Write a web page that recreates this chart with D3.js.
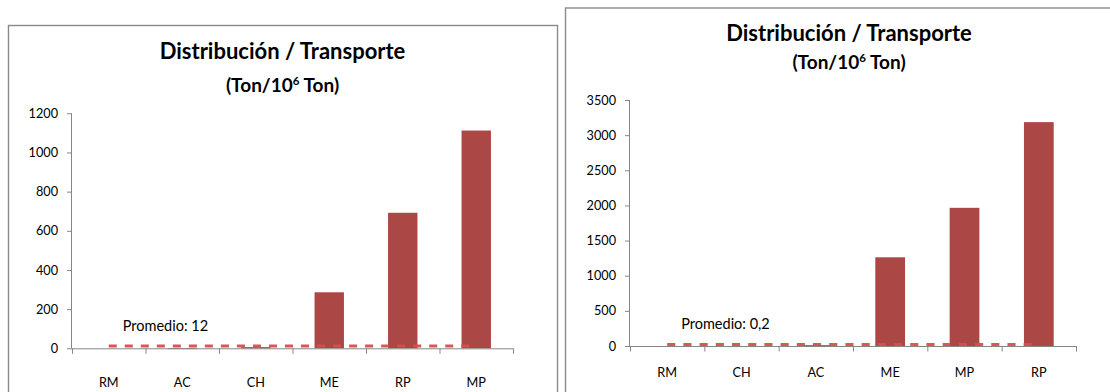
<!DOCTYPE html>
<html>
<head>
<meta charset="utf-8">
<script src="https://cdn.jsdelivr.net/npm/d3@7"></script>
<style>
  html, body { margin: 0; padding: 0; background: #ffffff; }
  svg { display: block; }
  text { font-family: Lato, "Open Sans", sans-serif; fill: #000; }
</style>
</head>
<body>
<svg id="chart" width="1110" height="392"></svg>
<script>
// ---- data ----
const leftCategories = ["RM", "AC", "CH", "ME", "RP", "MP"];
const leftValues = [0, -4, 6, 286, 692, 1112];
const leftTicks = [0, 200, 400, 600, 800, 1000, 1200];
const leftPromedio = 12;
const leftPromedioLabel = "Promedio: 12";

const rightCategories = ["RM", "CH", "AC", "ME", "MP", "RP"];
const rightValues = [0, -15, 12, 1262, 1966, 3185];
const rightTicks = [0, 500, 1000, 1500, 2000, 2500, 3000, 3500];
const rightPromedio = 22;
const rightPromedioLabel = "Promedio: 0,2";

const titleText = "Distribución / Transporte";
const subtitlePre = "(Ton/10";
const subtitleSup = "6";
const subtitlePost = " Ton)";

// ---- style ----
const barColor = "#AB4744";
const lineColor = "#D4514E";
const axisColor = "#868686";
const borderColor = "#8a8a8a";

const svg = d3.select("#chart");
svg.append("rect").attr("width", 1110).attr("height", 392).attr("fill", "#fff");

function drawChart(cfg) {
  const g = svg.append("g");
  // frame
  g.append("rect")
    .attr("x", cfg.box.x + 0.5).attr("y", cfg.box.y + 0.5)
    .attr("width", cfg.box.w).attr("height", cfg.box.h)
    .attr("fill", "#fff").attr("stroke", borderColor).attr("stroke-width", 1.4);

  // title
  g.append("text")
    .attr("x", cfg.titleX).attr("y", cfg.titleY)
    .attr("text-anchor", "middle")
    .style("font-weight", "bold").style("font-size", "22px")
    .text(titleText);
  const st = g.append("text")
    .attr("x", cfg.titleX).attr("y", cfg.subY)
    .attr("text-anchor", "middle")
    .style("font-weight", "bold").style("font-size", "19px");
  st.append("tspan").text(subtitlePre);
  st.append("tspan").attr("dy", -7).style("font-size", "11.5px").text(subtitleSup);
  st.append("tspan").attr("dy", 7).text(subtitlePost);

  const x = d3.scaleBand().domain(cfg.categories).range([cfg.x0, cfg.x1]).paddingInner(0.6).paddingOuter(0.3);
  const xb = d3.scaleBand().domain(cfg.categories).range([cfg.x0, cfg.x1]);
  const y = d3.scaleLinear().domain([0, cfg.ticks[cfg.ticks.length - 1]]).range([cfg.y0, cfg.y1]);

  // y axis
  const yAxis = g.append("g").attr("transform", `translate(${cfg.x0},0)`)
    .call(d3.axisLeft(y).tickValues(cfg.ticks).tickSize(5).tickPadding(9).tickFormat(d3.format("d")));
  yAxis.select(".domain").attr("stroke", axisColor).attr("d", `M-0.5,${cfg.y0}V${cfg.y1}`);
  yAxis.selectAll(".tick line").attr("stroke", axisColor);
  yAxis.selectAll(".tick text").style("font-size", "12.7px").style("font-family", "Lato, sans-serif").attr("fill", "#000");

  // bars
  g.append("g").selectAll("rect").data(cfg.values).join("rect")
    .attr("x", (d, i) => x(cfg.categories[i]))
    .attr("width", x.bandwidth())
    .attr("y", d => Math.min(y(d), y(0)))
    .attr("height", d => Math.abs(y(d) - y(0)))
    .attr("fill", barColor);

  // x axis (ticks at band boundaries)
  const xg = g.append("g");
  xg.append("line").attr("x1", cfg.x0).attr("x2", cfg.x1)
    .attr("y1", y(0) + 0.5).attr("y2", y(0) + 0.5).attr("stroke", axisColor);
  const bounds = cfg.categories.map(c => xb(c)).concat([cfg.x1]);
  xg.selectAll("line.t").data(bounds).join("line").attr("class", "t")
    .attr("x1", d => d + 0.5).attr("x2", d => d + 0.5)
    .attr("y1", y(0)).attr("y2", y(0) + 5.5).attr("stroke", axisColor);
  xg.selectAll("text").data(cfg.categories).join("text")
    .attr("x", d => xb(d) + xb.bandwidth() / 2)
    .attr("y", y(0) + cfg.catDy)
    .attr("text-anchor", "middle")
    .style("font-size", "12.7px")
    .text(d => d);

  // promedio dashed line
  const c0 = xb(cfg.categories[0]) + xb.bandwidth() / 2;
  const c1 = xb(cfg.categories[cfg.categories.length - 1]) + xb.bandwidth() / 2;
  const dash = xb.bandwidth() * 0.109;
  g.append("line")
    .attr("x1", c0).attr("x2", c1)
    .attr("y1", y(cfg.promedio)).attr("y2", y(cfg.promedio))
    .attr("stroke", lineColor).attr("stroke-width", 3)
    .attr("stroke-dasharray", `${dash},${dash}`)
    .attr("opacity", 0.95);
  g.append("text")
    .attr("x", c0 + 14).attr("y", y(0) - 17)
    .style("font-size", "14.5px")
    .text(cfg.promedioLabel);
}

drawChart({
  box: { x: 8, y: 25, w: 549, h: 400 },
  titleX: 282.5, titleY: 59, subY: 92,
  categories: leftCategories, values: leftValues, ticks: leftTicks,
  x0: 72, x1: 513, y0: 348.3, y1: 113.3, catDy: 39,
  promedio: leftPromedio, promedioLabel: leftPromedioLabel
});

drawChart({
  box: { x: 565, y: 7.5, w: 580, h: 420 },
  titleX: 849, titleY: 41, subY: 69,
  categories: rightCategories, values: rightValues, ticks: rightTicks,
  x0: 630, x1: 1076, y0: 346, y1: 100, catDy: 31,
  promedio: rightPromedio, promedioLabel: rightPromedioLabel
});
</script>
</body>
</html>
